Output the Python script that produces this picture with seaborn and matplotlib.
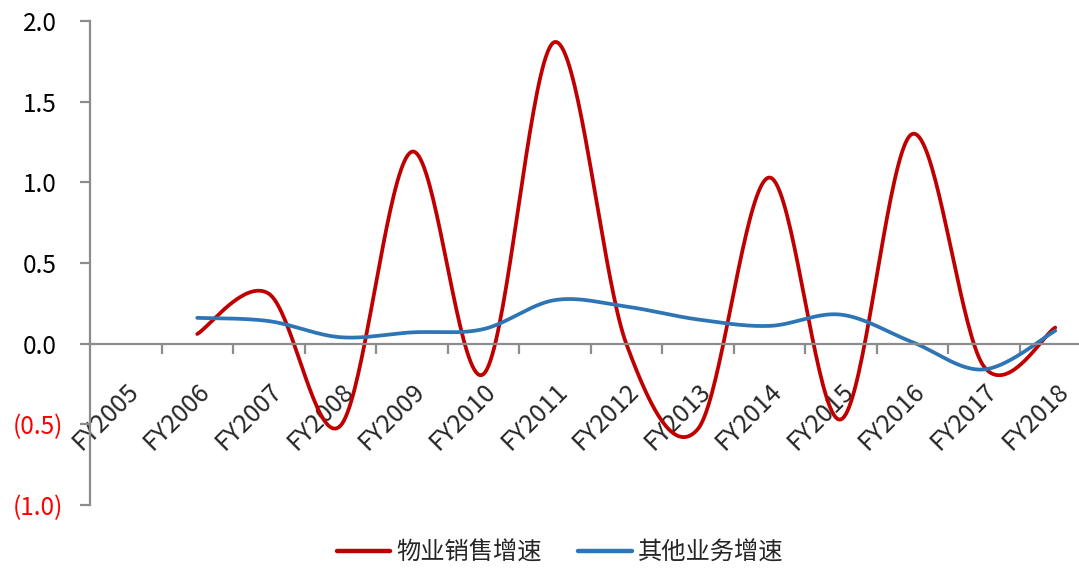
import numpy as np
import pandas as pd
import matplotlib
matplotlib.use("Agg")
import matplotlib.pyplot as plt
import seaborn as sns

# Fiscal years on the category axis
years = ["FY2005", "FY2006", "FY2007", "FY2008", "FY2009", "FY2010", "FY2011",
         "FY2012", "FY2013", "FY2014", "FY2015", "FY2016", "FY2017", "FY2018"]

# Year-on-year growth rates (FY2005 has no prior year)
property_sales_growth = [np.nan, 0.06, 0.31, -0.51, 1.19, -0.19, 1.87,
                         0.00, -0.53, 1.03, -0.47, 1.30, -0.14, 0.10]
other_business_growth = [np.nan, 0.16, 0.14, 0.04, 0.07, 0.09, 0.27,
                         0.23, 0.15, 0.11, 0.18, 0.01, -0.16, 0.08]

series_names = ["物业销售增速", "其他业务增速"]
series_colors = ["#C00000", "#2E75B6"]

y_ticks = [-1.0, -0.5, 0.0, 0.5, 1.0, 1.5, 2.0]


def smooth_curve(xs, ys, steps=40):
    """Cubic Bezier smoothing through every point (spreadsheet-style smoothed line)."""
    pts = np.column_stack([xs, ys])
    n = len(pts)
    out = []
    for i in range(n - 1):
        p0 = pts[i - 1] if i > 0 else pts[i]
        p1 = pts[i]
        p2 = pts[i + 1]
        p3 = pts[i + 2] if i + 2 < n else pts[i + 1]
        c1 = p1 + (p2 - p0) / 6.0
        c2 = p2 - (p3 - p1) / 6.0
        t = np.linspace(0, 1, steps, endpoint=(i == n - 2))[:, None]
        seg = ((1 - t) ** 3) * p1 + 3 * ((1 - t) ** 2) * t * c1 \
            + 3 * (1 - t) * t ** 2 * c2 + t ** 3 * p2
        out.append(seg)
    out = np.vstack(out)
    return out[:, 0], out[:, 1]


sns.set_theme(style="white")
plt.rcParams["font.family"] = ["Noto Sans CJK SC", "DejaVu Sans"]

fig = plt.figure(figsize=(10.79, 5.68), dpi=100)
ax = fig.add_axes([90 / 1079, 1 - 505 / 568, 1001 / 1079, (505 - 21) / 568])

positions = np.arange(len(years))
frames = []
for name, values in zip(series_names, [property_sales_growth, other_business_growth]):
    v = np.asarray(values, dtype=float)
    mask = ~np.isnan(v)
    sx, sy = smooth_curve(positions[mask].astype(float), v[mask])
    frames.append(pd.DataFrame({"x": sx, "y": sy, "series": name,
                                "order": np.arange(len(sx))}))
curves = pd.concat(frames, ignore_index=True)

sns.lineplot(data=curves, x="x", y="y", hue="series", hue_order=series_names,
             palette=series_colors, sort=False, estimator=None, units="series",
             linewidth=2.7, ax=ax, legend=True)

ax.set_xlim(-0.5, len(years) - 0.5)
ax.set_ylim(-1.0, 2.0)
ax.set_xlabel("")
ax.set_ylabel("")

axis_gray = "#8C8C8C"
for side in ["top", "right"]:
    ax.spines[side].set_visible(False)
ax.spines["left"].set_color(axis_gray)
ax.spines["left"].set_linewidth(1.6)
ax.spines["bottom"].set_color(axis_gray)
ax.spines["bottom"].set_linewidth(1.6)
ax.spines["bottom"].set_position(("data", 0))

font_size = 17.5

# Y axis: parentheses for negatives, shown in red
ax.set_yticks(y_ticks)
labels = [f"({abs(v):.1f})" if v < 0 else f"{v:.1f}" for v in y_ticks]
ax.set_yticklabels(labels, fontsize=font_size)
ax.tick_params(axis="y", which="major", direction="out", length=7, width=1.6,
               color=axis_gray, left=True)
for tick, v in zip(ax.yaxis.get_major_ticks(), y_ticks):
    if v < 0:
        tick.label1.set_color("#FF0000")
        tick.set_pad(12)
    else:
        tick.label1.set_color("black")
        tick.set_pad(17)

# X axis: tick marks between categories, labels at category centers
ax.set_xticks(np.arange(0.5, len(years) - 0.5, 1.0))
ax.set_xticklabels([])
ax.tick_params(axis="x", which="major", direction="out", length=7, width=1.6,
               color=axis_gray, bottom=True)
ax.set_xticks(positions, minor=True)
ax.set_xticklabels(years, minor=True, rotation=45, ha="right",
                   rotation_mode="anchor", fontsize=18)
ax.tick_params(axis="x", which="minor", length=0, pad=25)

handles, lbls = ax.get_legend_handles_labels()
ax.get_legend().remove()
leg = fig.legend(handles, lbls, loc="center", bbox_to_anchor=(560 / 1079, 1 - 553 / 568),
                 ncol=2, frameon=False, fontsize=font_size, handlelength=2.2,
                 handletextpad=0.25, columnspacing=1.5)
for line in leg.get_lines():
    line.set_linewidth(3.2)

fig.savefig("out.png", dpi=100)
